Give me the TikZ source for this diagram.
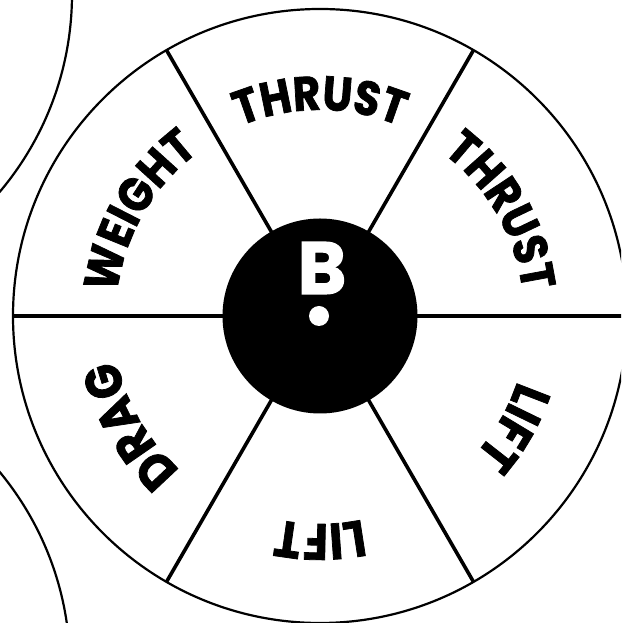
\documentclass[tikz,border=0pt]{standalone}
\usepackage{fontspec}
\newfontfamily\labfont{Poppins}[BoldFeatures={FakeStretch=0.88,FakeBold=1.5}]
\newfontfamily\bfont{Poppins}[BoldFeatures={FakeBold=1.5}]
\usetikzlibrary{decorations.text}
\begin{document}
\begin{tikzpicture}[x=1pt,y=1pt,
  spoke/.style={line width=3.6pt},
  rim/.style={line width=2.2pt},
  lbl/.style={decorate, decoration={text along path, text align=center,
     text={|\labfont\bfseries\fontsize{48}{48}\selectfont|#1}}},
  lblb/.style={decorate, decoration={text along path, text align=center,
     text={|\labfont\bfseries\fontsize{51}{51}\selectfont|#1}}}]
\useasboundingbox (0,0) rectangle (621,623);
\clip (0,0) rectangle (621,623);
\fill[white] (0,0) rectangle (621,623);
\coordinate (c) at (320,307);
\coordinate (n1) at (-235,629);
\coordinate (n2) at (-237,-44.5);
\draw[rim] (n1) circle[radius=307];
\draw[rim] (n2) circle[radius=307];
\draw[rim, fill=white] (c) circle[radius=307];
\foreach \a in {0,60,...,300} \draw[spoke] (c) -- ([shift={(\a:307)}]c);
\fill (c) circle[radius=97.5];
\node[text=white, font=\bfont\bfseries\fontsize{74}{74}\selectfont, inner sep=0pt] (b) at (322,355) {B};
\fill[white] (319,307) circle[radius=10];
% labels, clockwise, tops outward
\path[lbl=THRUST] ([shift={(130:206)}]c) arc[start angle=130, end angle=50, radius=206];
\path[lbl=THRUST] ([shift={(70:204)}]c) arc[start angle=70, end angle=-10, radius=204];
\path[lbl=WEIGHT] ([shift={(190:204)}]c) arc[start angle=190, end angle=110, radius=204];
\path[lblb=LIFT] ([shift={(10:208)}]c) arc[start angle=10, end angle=-70, radius=208];
\path[lblb=LIFT] ([shift={(310:208)}]c) arc[start angle=310, end angle=230, radius=208];
\path[lblb=DRAG] ([shift={(250:208)}]c) arc[start angle=250, end angle=170, radius=208];
\end{tikzpicture}
\end{document}
